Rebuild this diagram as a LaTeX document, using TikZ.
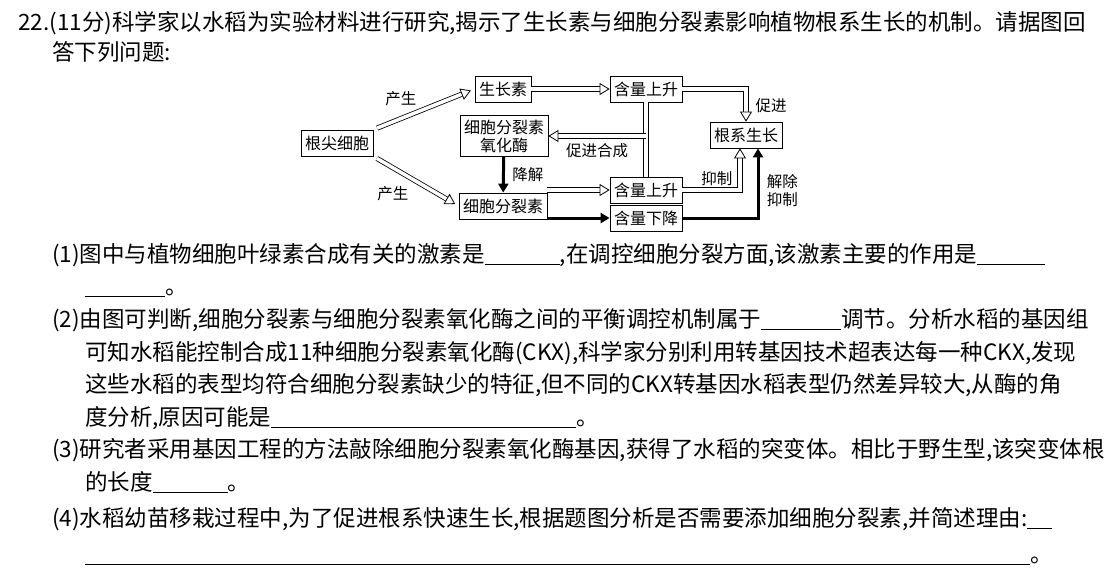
\documentclass[tikz,border=0pt]{standalone}
\usepackage{fontspec}
\setmainfont{Liberation Serif}
\newfontfamily\cjk{Noto Sans CJK SC}
\usetikzlibrary{arrows.meta, positioning}

\begin{document}
\begin{tikzpicture}[
        x=1pt, y=-1pt,
        box/.style={rectangle, draw, thick, inner sep=4pt, minimum height=26pt, font=\cjk\fontsize{16}{18}\selectfont, align=center},
        lab/.style={font=\cjk\fontsize{15.5}{18}\selectfont},
        txt/.style={anchor=base west, inner sep=0pt, font=\cjk\fontsize{22.5}{24}\selectfont},
        hollow/.style={double, double distance=3.5pt, line width=0.8pt, -{Triangle[open, length=10pt, width=12pt]}},
        heavy/.style={line width=3pt, -{Triangle[length=9pt, width=10pt]}}
    ]
        \useasboundingbox (0,0) rectangle (1112,576);
        \newcommand{\blank}[1]{\rule[-3pt]{#1pt}{0.6pt}}

        % Question text
        \node[txt] (q0) at (18,30) {22.(11分)科学家以水稻为实验材料进行研究,揭示了生长素与细胞分裂素影响植物根系生长的机制。请据图回};
        \node[txt] (q0b) at (52,60) {答下列问题:};

        % Boxes
        \node[box] (root) at (337,143) {根尖细胞};
        \node[box] (auxin) at (503,89) {生长素};
        \node[box] (upA) at (646,89) {含量上升};
        \node[box] (ckx) at (504,136) {细胞分裂素\\氧化酶};
        \node[box] (growth) at (746,135) {根系生长};
        \node[box] (ck) at (503,206) {细胞分裂素};
        \node[box] (upC) at (646,190) {含量上升};
        \node[box] (down) at (646,218) {含量下降};

        % Arrows
        \draw[hollow, shorten <=4pt, shorten >=4pt] (root.north east) -- (auxin.west) node[lab, midway, above left=0pt and 4pt] {产生};
        \draw[hollow, shorten <=4pt, shorten >=4pt] (root.south east) -- (ck.west) node[lab, midway, below left=2pt and 4pt] {产生};
        \draw[hollow] (auxin) -- (upA);
        \draw[hollow] (upA.east) -| (growth.north) node[lab, pos=0.75, right=6pt] {促进};
        \draw[double, double distance=3.5pt, line width=0.8pt] (upA.south) -- (upC.north);
        \coordinate (fork) at (upA.south |- ckx.east);
        \draw[hollow] (fork) -- (ckx.east) node[lab, midway, below=4pt] {促进合成};
        \draw[heavy] (ckx) -- (ck) node[lab, midway, right=4pt] {降解};
        \draw[hollow] (ck.east |- upC) -- (upC);
        \draw[heavy] (ck.east |- down) -- (down);
        \draw[hollow] (upC.east) -| ([xshift=-6pt]growth.south) node[lab, pos=0.3, above=1pt] {抑制};
        \draw[heavy] (down.east) -| ([xshift=12pt]growth.south) node[lab, pos=0.7, right=4pt, align=left] {解除\\抑制};

        % Questions
        \node[txt] (q1) at (52,262) {(1)图中与植物细胞叶绿素合成有关的激素是\blank{75},在调控细胞分裂方面,该激素主要的作用是\blank{68}};
        \node[txt] (q1b) at (85,294) {\blank{80}。};
        \node[txt] (q2) at (52,327) {(2)由图可判断,细胞分裂素与细胞分裂素氧化酶之间的平衡调控机制属于\blank{80}调节。分析水稻的基因组};
        \node[txt] (q2b) at (85,360) {可知水稻能控制合成11种细胞分裂素氧化酶(CKX),科学家分别利用转基因技术超表达每一种CKX,发现};
        \node[txt] (q2c) at (85,392) {这些水稻的表型均符合细胞分裂素缺少的特征,但不同的CKX转基因水稻表型仍然差异较大,从酶的角};
        \node[txt] (q2d) at (85,425) {度分析,原因可能是\blank{305}。};
        \node[txt] (q3) at (52,457) {(3)研究者采用基因工程的方法敲除细胞分裂素氧化酶基因,获得了水稻的突变体。相比于野生型,该突变体根};
        \node[txt] (q3b) at (85,490) {的长度\blank{75}。};
        \node[txt] (q4) at (52,526) {(4)水稻幼苗移栽过程中,为了促进根系快速生长,根据题图分析是否需要添加细胞分裂素,并简述理由:\blank{25}};
        \node[txt] (q4b) at (85,562) {\blank{945}。};
    \end{tikzpicture}
\end{document}
